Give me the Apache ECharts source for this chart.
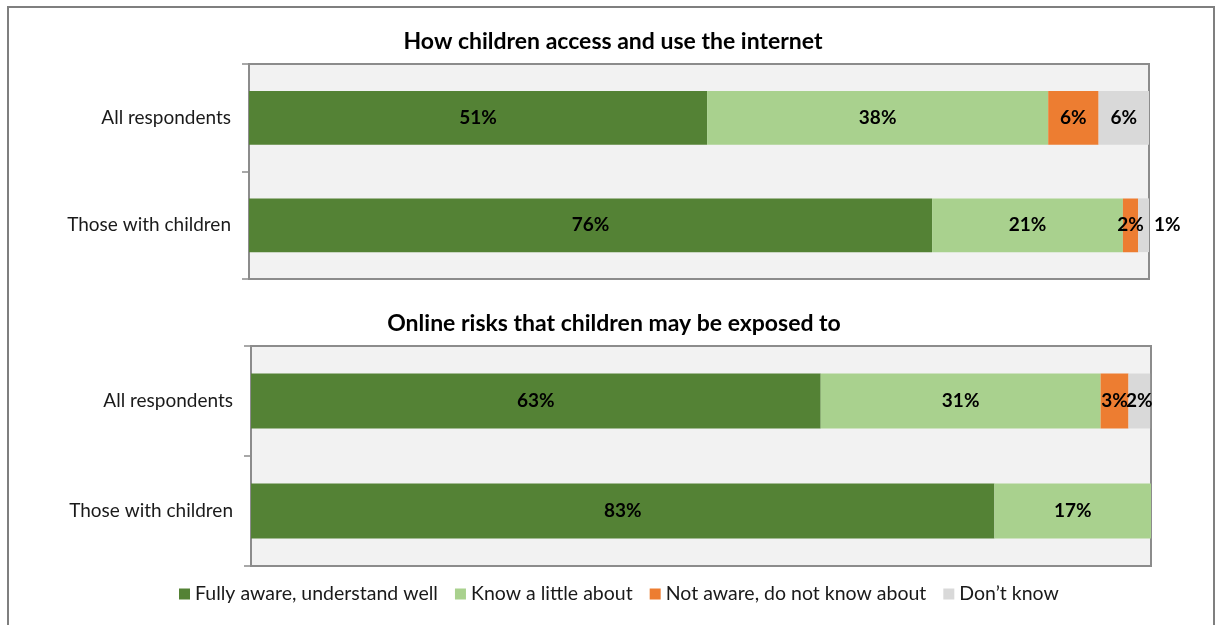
<!DOCTYPE html>
<html><head><meta charset="utf-8">
<script src="https://cdn.jsdelivr.net/npm/echarts@6/dist/echarts.min.js"></script>
<style>html,body{margin:0;padding:0;background:#fff}#c{width:1217px;height:625px}</style>
</head><body><div id="c"></div>
<script>
const titles = ['How children access and use the internet', 'Online risks that children may be exposed to'];
const categories = ['All respondents', 'Those with children'];
const seriesNames = ['Fully aware, understand well', 'Know a little about', 'Not aware, do not know about', 'Don\u2019t know'];
const colors = ['#548235', '#A9D18E', '#ED7D31', '#D9D9D9'];
// chart 1: How children access and use the internet
const access_fully = [50.9, 75.9];
const access_little = [37.9, 21.2];
const access_notAware = [5.6, 1.7];
const access_dontKnow = [5.6, 1.2];
// chart 2: Online risks
const risks_fully = [63.3, 82.6];
const risks_little = [31.1, 17.4];
const risks_notAware = [3.1, 0];
const risks_dontKnow = [2.4, 0];

const FONT = 'Lato';
const chart = echarts.init(document.getElementById('c'));

function makeSeries(arrs, gi) {
  return arrs.map((arr, k) => ({
    name: seriesNames[k],
    type: 'bar',
    stack: 's' + gi,
    xAxisIndex: gi, yAxisIndex: gi,
    barCategoryGap: '50%',
    itemStyle: { color: colors[k] },
    emphasis: { disabled: true },
    data: arr.map((v, i) => {
      const d = { value: v };
      if (v === 0) d.label = { show: false };
      // smallest segment label placed outside bar end
      if (gi === 0 && k === 3 && i === 1) d.label = { position: 'right', distance: 5 };
      return d;
    }),
    label: {
      show: true, position: 'inside', color: '#000', fontWeight: 'bold',
      fontFamily: FONT, fontSize: 19,
      formatter: p => Math.round(p.value) + '%'
    }
  }));
}

const yAxisCommon = {
  type: 'category', data: categories, inverse: true,
  axisLine: { show: true, lineStyle: { color: '#8c8c8c', width: 2 } },
  axisTick: { show: true, length: 7, lineStyle: { color: '#8c8c8c', width: 1.5 } },
  axisLabel: { color: '#1a1a1a', fontFamily: FONT, fontSize: 19, margin: 18 }
};

chart.setOption({
  animation: false,
  title: [
    { text: titles[0], left: 608, top: 25, textAlign: 'center',
      textStyle: { fontFamily: FONT, fontSize: 23, fontWeight: 'bold', color: '#000' } },
    { text: titles[1], left: 609, top: 307, textAlign: 'center',
      textStyle: { fontFamily: FONT, fontSize: 23, fontWeight: 'bold', color: '#000' } }
  ],
  graphic: [{
    type: 'rect', shape: { x: 8, y: 7, width: 1206, height: 640 },
    style: { fill: 'none', stroke: '#7f7f7f', lineWidth: 2 }, silent: true, z: -10
  }],
  legend: {
    data: seriesNames, bottom: 16, left: 174, icon: 'rect',
    itemWidth: 11, itemHeight: 11, itemGap: 17,
    textStyle: { fontFamily: FONT, fontSize: 19.5, color: '#1a1a1a' }
  },
  grid: [
    { left: 249, top: 64, width: 900, height: 215, show: true, backgroundColor: '#F2F2F2', borderColor: '#8c8c8c', borderWidth: 2 },
    { left: 251, top: 346, width: 900, height: 220, show: true, backgroundColor: '#F2F2F2', borderColor: '#8c8c8c', borderWidth: 2 }
  ],
  xAxis: [
    { type: 'value', gridIndex: 0, min: 0, max: 100, show: false },
    { type: 'value', gridIndex: 1, min: 0, max: 100, show: false }
  ],
  yAxis: [
    Object.assign({ gridIndex: 0 }, yAxisCommon),
    Object.assign({ gridIndex: 1 }, yAxisCommon)
  ],
  series: [
    ...makeSeries([access_fully, access_little, access_notAware, access_dontKnow], 0),
    ...makeSeries([risks_fully, risks_little, risks_notAware, risks_dontKnow], 1)
  ]
});
</script></body></html>
